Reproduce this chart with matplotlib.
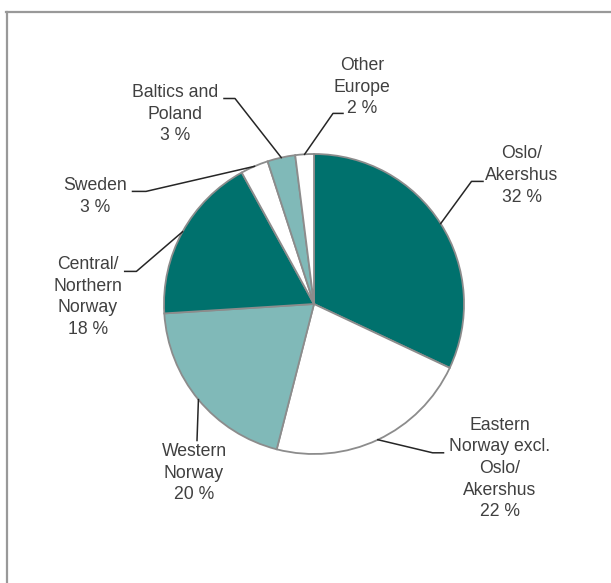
import numpy as np
import matplotlib.pyplot as plt
from matplotlib.lines import Line2D

plt.rcParams['font.family'] = ['Liberation Sans', 'DejaVu Sans']

# Share of employees by region of residence
labels = ['Oslo/\nAkershus', 'Eastern\nNorway excl.\nOslo/\nAkershus', 'Western\nNorway',
          'Central/\nNorthern\nNorway', 'Sweden', 'Baltics and\nPoland', 'Other\nEurope']
shares = [32, 22, 20, 18, 3, 3, 2]
colors = ['#00716D', '#FFFFFF', '#80B9B8', '#00716D', '#FFFFFF', '#80B9B8', '#FFFFFF']

# label layout in pixel coordinates (y measured from the top):
# elbow of the leader, end of the horizontal stub, text centre
elbows = [(471.5, 181.4), (432.6, 452.8), (197.0, 440.5), (136.4, 271.4),
          (146.0, 191.4), (235.0, 98.5), (333.0, 113.4)]
stubs = [(483.0, 181.4), (443.5, 452.8), None, (124.7, 271.4),
         (132.5, 191.4), (224.0, 98.5), (343.0, 113.4)]
text_pos = [(522, 175.5), (500, 468.4), (194, 473.0), (88, 297.0),
            (95.5, 196.5), (175.4, 114.3), (362, 87.3)]

W, H = 611, 583
fig = plt.figure(figsize=(W / 100, H / 100), dpi=100)
ax = fig.add_axes([0, 0, 1, 1])


def flip(p):
    return (p[0], H - p[1])


cx, cy = 314, H - 304
radius = 150

wedges, _ = ax.pie(shares, colors=colors, startangle=90, counterclock=False,
                   center=(cx, cy), radius=radius, frame=True,
                   wedgeprops=dict(edgecolor='#8C8C8C', linewidth=1.3))
ax.set_xlim(0, W)
ax.set_ylim(0, H)
ax.set_aspect('equal')
ax.axis('off')

for w, lab, share, el, st, tp in zip(wedges, labels, shares, elbows, stubs, text_pos):
    mid = np.deg2rad((w.theta1 + w.theta2) / 2)
    edge = (cx + radius * np.cos(mid), cy + radius * np.sin(mid))
    pts = [edge, flip(el)]
    if st is not None:
        pts.append(flip(st))
    xs, ys = zip(*pts)
    ax.add_line(Line2D(xs, ys, color='#262626', linewidth=1.1))
    tx, ty = flip(tp)
    ax.text(tx, ty, f'{lab}\n{share} %', ha='center', va='center',
            fontsize=12.7, color='#404040', linespacing=1.36)

# open frame on the left and top edges
fig.add_artist(Line2D([6.8 / W, 6.8 / W], [0, 1 - 12 / H], transform=fig.transFigure,
                      color='#999999', linewidth=1.6))
fig.add_artist(Line2D([6 / W, 1], [1 - 12.3 / H, 1 - 12.3 / H], transform=fig.transFigure,
                      color='#999999', linewidth=1.6))

fig.savefig('out.png', dpi=100, facecolor='white')
